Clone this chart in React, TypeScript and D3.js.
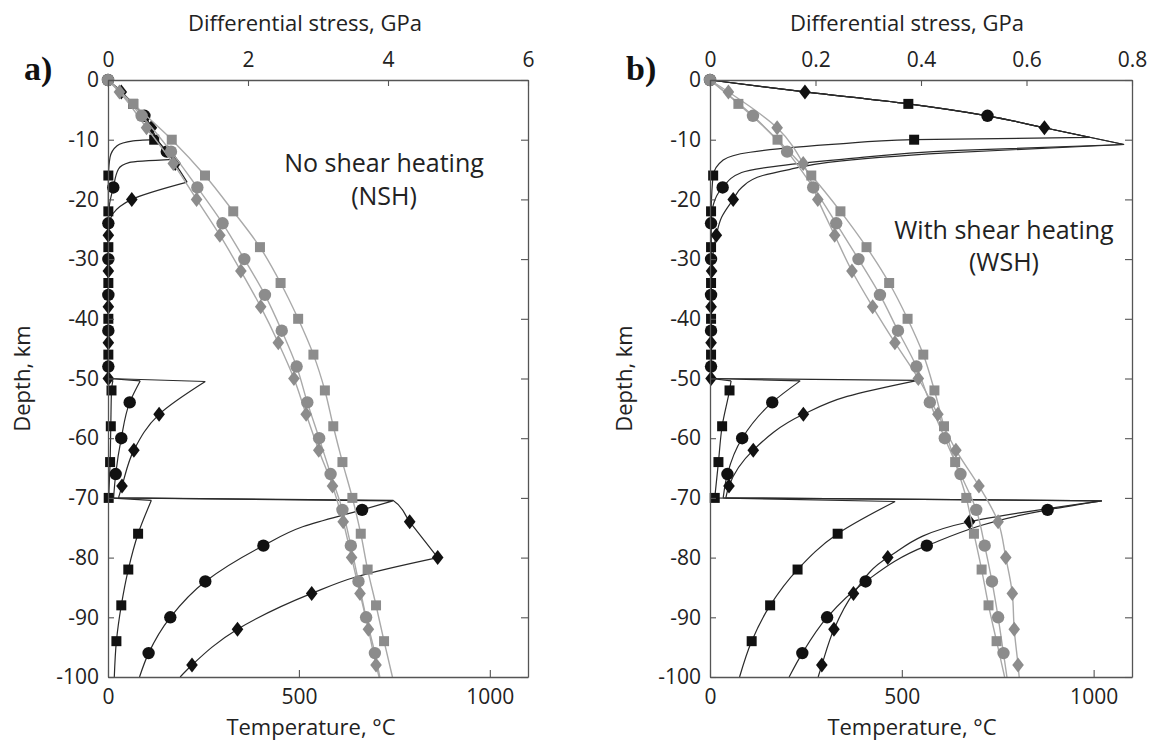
import { useEffect, useRef } from 'react';
import * as d3 from 'd3';

type Pt = [number, number]; // [depth km, value]

// ---- panel a (no shear heating) : temperature, °C (grey)
const aTempSquare: Pt[] = [[0, 0], [-4, 66], [-10, 167], [-16, 254], [-22, 328], [-28, 398], [-34, 452], [-40, 498], [-46, 538], [-52, 568], [-58, 590], [-64, 614], [-70, 640], [-76, 662], [-82, 680], [-88, 702], [-94, 723], [-100, 745]];
const aTempCircle: Pt[] = [[0, 0], [-6, 88], [-12, 165], [-18, 234], [-24, 300], [-30, 357], [-36, 411], [-42, 455], [-48, 494], [-54, 522], [-60, 553], [-66, 583], [-72, 614], [-78, 636], [-84, 656], [-90, 676], [-96, 699], [-100, 712]];
const aTempDiamond: Pt[] = [[0, 0], [-2, 30], [-8, 101], [-14, 171], [-20, 232], [-26, 293], [-32, 348], [-38, 400], [-44, 446], [-50, 487], [-56, 519], [-62, 552], [-68, 588], [-74, 616], [-80, 638], [-86, 660], [-92, 682], [-98, 702], [-100, 710]];

// ---- panel a : differential stress, GPa (black)
const aStressSquare: Pt[] = [[0, 0], [-2, 0.19], [-4, 0.36], [-6, 0.52], [-8, 0.62], [-10, 0.66], [-10.2, 0.36], [-11, 0.13], [-12.9, 0.03], [-16, 0.005], [-22, 0.005], [-28, 0.005], [-34, 0.005], [-40, 0.005], [-46, 0.005], [-50, 0.005], [-50.3, 0.07], [-52, 0.05], [-58, 0.04], [-64, 0.03], [-70, 0.01], [-70.4, 0.62], [-76, 0.43], [-82, 0.29], [-88, 0.19], [-94, 0.12], [-100, 0.09]];
const aStressCircle: Pt[] = [[0, 0], [-2, 0.19], [-4, 0.36], [-6, 0.52], [-8, 0.62], [-10, 0.7], [-12, 0.84], [-13.3, 0.94], [-13.8, 0.31], [-14.9, 0.15], [-18, 0.076], [-21, 0.02], [-24, 0.005], [-30, 0.005], [-36, 0.005], [-42, 0.005], [-48, 0.005], [-50, 0.005], [-50.4, 0.46], [-54, 0.31], [-60, 0.19], [-66, 0.11], [-70, 0.08], [-70.5, 4.07], [-72, 3.63], [-74.8, 2.79], [-78, 2.22], [-84, 1.39], [-90, 0.89], [-96, 0.58], [-100, 0.45]];
const aStressDiamond: Pt[] = [[0, 0], [-2, 0.19], [-4, 0.36], [-6, 0.52], [-8, 0.62], [-10, 0.7], [-12, 0.84], [-14, 0.96], [-17.1, 1.13], [-20, 0.34], [-21.2, 0.17], [-22.4, 0.07], [-24, 0.02], [-26, 0.005], [-32, 0.005], [-38, 0.005], [-44, 0.005], [-50, 0.005], [-50.5, 1.39], [-56, 0.73], [-62, 0.37], [-68, 0.2], [-70, 0.15], [-70.4, 4.07], [-74, 4.31], [-80, 4.71], [-83.2, 3.55], [-86, 2.91], [-92, 1.85], [-98, 1.2], [-100, 1.03]];

// ---- panel b (with shear heating) : temperature, °C (grey)
const bTempSquare: Pt[] = [[0, 0], [-4, 74], [-10, 176], [-16, 264], [-22, 340], [-28, 408], [-34, 467], [-40, 515], [-46, 556], [-52, 585], [-58, 610], [-64, 639], [-70, 668], [-76, 688], [-82, 708], [-88, 726], [-94, 747], [-100, 768]];
const bTempCircle: Pt[] = [[0, 0], [-6, 112], [-12, 201], [-18, 269], [-24, 329], [-30, 387], [-36, 443], [-42, 490], [-48, 538], [-54, 573], [-60, 612], [-66, 653], [-72, 694], [-78, 716], [-84, 735], [-90, 751], [-96, 765], [-100, 774]];
const bTempDiamond: Pt[] = [[0, 0], [-2, 48], [-8, 175], [-14, 243], [-20, 281], [-26, 325], [-32, 370], [-38, 424], [-44, 482], [-50, 543], [-56, 594], [-62, 641], [-68, 701], [-74, 751], [-80, 771], [-86, 788], [-92, 793], [-98, 803], [-100, 806]];

// ---- panel b : differential stress, GPa (black)
const bStressSquare: Pt[] = [[0, 0], [-2, 0.18], [-4, 0.376], [-6, 0.526], [-8, 0.634], [-9.6, 0.72], [-10, 0.387], [-10.7, 0.246], [-12.1, 0.076], [-13.4, 0.025], [-16, 0.006], [-22, 0.002], [-28, 0.002], [-34, 0.002], [-40, 0.002], [-46, 0.002], [-50, 0.002], [-50.4, 0.04], [-52, 0.037], [-58, 0.023], [-64, 0.016], [-70, 0.009], [-70.6, 0.351], [-76, 0.242], [-82, 0.166], [-88, 0.114], [-94, 0.079], [-100, 0.056]];
const bStressCircle: Pt[] = [[0, 0], [-2, 0.18], [-4, 0.376], [-6, 0.526], [-8, 0.634], [-10.8, 0.785], [-11.8, 0.47], [-13.3, 0.25], [-14.5, 0.12], [-15.5, 0.06], [-18, 0.024], [-21, 0.006], [-24, 0.002], [-30, 0.002], [-36, 0.002], [-42, 0.002], [-48, 0.002], [-50, 0.002], [-50.4, 0.171], [-54, 0.118], [-60, 0.061], [-66, 0.033], [-70, 0.025], [-70.5, 0.743], [-72, 0.64], [-78, 0.411], [-84, 0.295], [-90, 0.222], [-96, 0.175], [-100, 0.15]];
const bStressDiamond: Pt[] = [[0, 0], [-2, 0.18], [-4, 0.376], [-6, 0.526], [-8, 0.634], [-10.8, 0.785], [-12.2, 0.45], [-13.8, 0.224], [-15, 0.15], [-16, 0.1], [-18, 0.06], [-20, 0.044], [-23, 0.022], [-26, 0.012], [-32, 0.003], [-38, 0.002], [-44, 0.002], [-50, 0.002], [-50.3, 0.394], [-53, 0.26], [-56, 0.177], [-62, 0.082], [-68, 0.036], [-70, 0.03], [-70.5, 0.743], [-74, 0.492], [-80, 0.337], [-86, 0.272], [-92, 0.235], [-98, 0.212], [-100, 0.205]];

// depths carrying a marker, per symbol
const squareDepths = [-4, -10, -16, -22, -28, -34, -40, -46, -52, -58, -64, -70, -76, -82, -88, -94];
const circleDepths = [0, -6, -12, -18, -24, -30, -36, -42, -48, -54, -60, -66, -72, -78, -84, -90, -96];
const diamondDepths = [-2, -8, -14, -20, -26, -32, -38, -44, -50, -56, -62, -68, -74, -80, -86, -92, -98];

// ticks
const depthTicks = [0, -10, -20, -30, -40, -50, -60, -70, -80, -90, -100];
const tempTicks = [0, 500, 1000];
const aStressTicks = [0, 2, 4, 6];
const bStressTicks = [0, 0.2, 0.4, 0.6, 0.8];

const FONT = '"Open Sans", "Noto Sans", sans-serif';
const TOP = 80;
const BOTTOM = 677;

const SYMBOLS: Record<string, string> = {
    square: 'M-5,-5H5V5H-5Z',
    circle: 'M6.2,0A6.2,6.2 0 1,1 -6.2,0A6.2,6.2 0 1,1 6.2,0Z',
    diamond: 'M0,-7.5L5.8,0L0,7.5L-5.8,0Z',
};

const panels = [
    {
        tag: 'a)', tagX: 24, left: 108, right: 528, stressMax: 6, stressTicks: aStressTicks,
        temps: [aTempSquare, aTempCircle, aTempDiamond],
        stresses: [aStressSquare, aStressCircle, aStressDiamond],
        note: ['No shear heating', '(NSH)'], noteX: 384, noteY: [172, 205],
        topTitleX: 305, bottomTitleX: 311,
    },
    {
        tag: 'b)', tagX: 626, left: 710, right: 1132, stressMax: 0.8, stressTicks: bStressTicks,
        temps: [bTempSquare, bTempCircle, bTempDiamond],
        stresses: [bStressSquare, bStressCircle, bStressDiamond],
        note: ['With shear heating', '(WSH)'], noteX: 1004, noteY: [239, 271],
        topTitleX: 907, bottomTitleX: 912,
    },
];

// split a profile into runs where the value keeps one direction,
// so each run can be smoothed without overshooting the sharp peaks
const monotoneRuns = (pts: Pt[]) => {
    const out: Pt[][] = [];
    let cur: Pt[] = [pts[0]];
    let dir = 0;
    for (let i = 1; i < pts.length; i++) {
        const s = Math.sign(pts[i][1] - pts[i - 1][1]);
        if (cur.length > 1 && s !== dir) {
            out.push(cur);
            cur = [pts[i - 1]];
        }
        dir = s;
        cur.push(pts[i]);
    }
    out.push(cur);
    return out;
};

const App = () => {
    const svgRef = useRef<SVGSVGElement>(null);

    useEffect(() => {
        const svg = d3.select(svgRef.current);
        svg.selectAll('*').remove();

        svg.append('rect').attr('width', 1150).attr('height', 740).attr('fill', '#fff');

        const y = d3.scaleLinear().domain([0, -100]).range([TOP, BOTTOM]);
        const shapes = ['square', 'circle', 'diamond'];
        const markDepths = [squareDepths, circleDepths, diamondDepths];

        panels.forEach(p => {
            const g = svg.append('g');
            const x = d3.scaleLinear().domain([0, p.stressMax]).range([p.left, p.right]);
            const t = d3.scaleLinear().domain([0, 1100]).range([p.left, p.right]);

            const pathFor = (series: Pt[], sx: (v: number) => number) => {
                const line = d3.line<Pt>()
                    .x(d => sx(d[1]))
                    .y(d => y(d[0]))
                    .curve(d3.curveMonotoneY);
                return monotoneRuns(series).map(r => line(r)).join('');
            };

            const drawMarks = (series: Pt[], i: number, sx: (v: number) => number, fill: string) => {
                const pts = markDepths[i]
                    .map(dep => series.find(d => d[0] === dep))
                    .filter(Boolean) as Pt[];
                g.append('g').selectAll('path')
                    .data(pts)
                    .enter().append('path')
                    .attr('d', SYMBOLS[shapes[i]])
                    .attr('transform', d => `translate(${sx(d[1])},${y(d[0])})`)
                    .attr('fill', fill);
            };

            // stress curves, black
            p.stresses.forEach(s => {
                g.append('path')
                    .attr('fill', 'none')
                    .attr('stroke', '#2a2a2a')
                    .attr('stroke-width', 1.2)
                    .attr('d', pathFor(s, x));
            });
            p.stresses.forEach((s, i) => drawMarks(s, i, x, '#111'));

            // temperature curves, grey
            p.temps.forEach(s => {
                g.append('path')
                    .attr('fill', 'none')
                    .attr('stroke', '#a9a9a9')
                    .attr('stroke-width', 1.4)
                    .attr('d', pathFor(s, t));
            });
            p.temps.forEach((s, i) => drawMarks(s, i, t, '#8c8c8c'));

            // axes (frame)
            const styleAxis = (a: any) => {
                a.select('.domain').attr('stroke', '#555').attr('stroke-width', 1.3);
                a.selectAll('.tick line').attr('stroke', '#555').attr('stroke-width', 1.1);
                a.selectAll('text').attr('fill', '#222').attr('font-size', 21).attr('font-family', FONT);
            };

            const topAx = g.append('g')
                .attr('transform', `translate(0,${TOP})`)
                .call(d3.axisTop(x).tickValues(p.stressTicks).tickSize(-6).tickSizeOuter(0).tickPadding(13).tickFormat(d => `${d}`));
            styleAxis(topAx);

            const botAx = g.append('g')
                .attr('transform', `translate(0,${BOTTOM})`)
                .call(d3.axisBottom(t).tickValues(tempTicks).tickSize(-7).tickSizeOuter(0).tickPadding(12).tickFormat(d => `${d}`));
            styleAxis(botAx);

            const leftAx = g.append('g')
                .attr('transform', `translate(${p.left},0)`)
                .call(d3.axisLeft(y).tickValues(depthTicks).tickSize(-6).tickSizeOuter(0).tickPadding(9).tickFormat(d => `${d}`));
            styleAxis(leftAx);

            const rightAx = g.append('g')
                .attr('transform', `translate(${p.right},0)`)
                .call(d3.axisRight(y).tickValues(depthTicks).tickSize(-7).tickSizeOuter(0).tickFormat(() => ''));
            styleAxis(rightAx);

            // titles
            g.append('text')
                .attr('x', p.topTitleX).attr('y', 31)
                .attr('text-anchor', 'middle')
                .style('font-family', FONT).style('font-size', '22px').style('fill', '#222')
                .text('Differential stress, GPa');

            g.append('text')
                .attr('x', p.bottomTitleX).attr('y', 735)
                .attr('text-anchor', 'middle')
                .style('font-family', FONT).style('font-size', '22px').style('fill', '#222')
                .text('Temperature, °C');

            g.append('text')
                .attr('transform', `translate(${p.left - 78},${(TOP + BOTTOM) / 2}) rotate(-90)`)
                .attr('text-anchor', 'middle')
                .style('font-family', FONT).style('font-size', '22px').style('fill', '#222')
                .text('Depth, km');

            g.append('text')
                .attr('x', p.tagX).attr('y', 80)
                .style('font-family', '"Liberation Serif", "DejaVu Serif", serif')
                .style('font-weight', 'bold').style('font-size', '34px').style('fill', '#111')
                .text(p.tag);

            p.note.forEach((line, i) => {
                g.append('text')
                    .attr('x', p.noteX).attr('y', p.noteY[i])
                    .attr('text-anchor', 'middle')
                    .style('font-family', FONT).style('font-size', '25px').style('fill', '#222')
                    .text(line);
            });
        });
    }, []);

    return (
        <div style={{ position: 'absolute', left: 0, top: 0 }}>
            <svg ref={svgRef} width={1150} height={740} style={{ display: 'block' }}></svg>
        </div>
    );
};

export default App;
